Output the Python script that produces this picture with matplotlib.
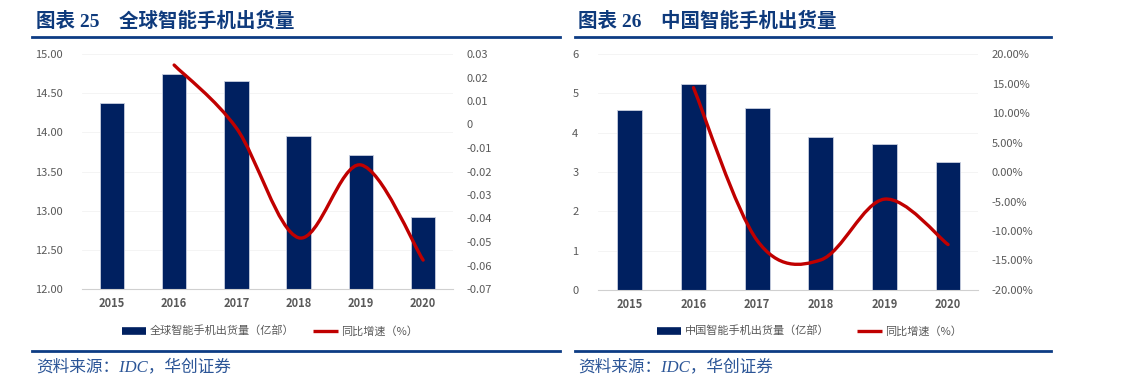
import matplotlib.pyplot as plt
from matplotlib.path import Path
from matplotlib.patches import PathPatch
from matplotlib.lines import Line2D
from matplotlib.ticker import FuncFormatter

plt.rcParams['font.family'] = ['Noto Sans CJK SC', 'DejaVu Sans']

years = ['2015', '2016', '2017', '2018', '2019', '2020']
global_ship = [14.37, 14.74, 14.65, 13.95, 13.71, 12.92]
global_yoy = [0.0253, -0.0015, -0.0482, -0.0172, -0.0577]   # 2016-2020
china_ship = [4.57, 5.23, 4.62, 3.90, 3.72, 3.26]
china_yoy = [14.3, -11.6, -14.9, -4.6, -12.3]               # %, 2016-2020

NAVY = '#002060'
RED = '#C00000'
TITLE_BLUE = '#0E3A7C'
GRAY = '#595959'
W, H = 1123, 380


def px(x0, y0, x1, y1):
    return [x0 / W, 1 - y1 / H, (x1 - x0) / W, (y1 - y0) / H]


def smooth_path(xs, ys):
    # excel style smoothed line: cubic bezier with catmull-rom control points
    pts = list(zip(xs, ys))
    verts = [pts[0]]
    codes = [Path.MOVETO]
    n = len(pts)
    for i in range(n - 1):
        p0 = pts[i - 1] if i > 0 else pts[i]
        p1 = pts[i]
        p2 = pts[i + 1]
        p3 = pts[i + 2] if i + 2 < n else pts[i + 1]
        c1 = (p1[0] + (p2[0] - p0[0]) / 6, p1[1] + (p2[1] - p0[1]) / 6)
        c2 = (p2[0] - (p3[0] - p1[0]) / 6, p2[1] - (p3[1] - p1[1]) / 6)
        verts += [c1, c2, p2]
        codes += [Path.CURVE4] * 3
    return Path(verts, codes)


def panel(box, xlim, bars, ylim, yticks, yfmt, line, y2lim, y2ticks, y2fmt):
    ax = fig.add_axes(px(*box))
    x = list(range(len(years)))
    ax.bar(x, bars, width=0.39, color=NAVY, edgecolor='#c9cfe0', linewidth=0.6, zorder=2)
    ax.set_xlim(*xlim)
    ax.set_ylim(*ylim)
    ax.set_yticks(yticks)
    ax.yaxis.set_major_formatter(FuncFormatter(yfmt))
    ax.set_xticks(x)
    ax.set_xticklabels(years, fontsize=8, color=GRAY, fontweight='bold')
    ax.tick_params(axis='y', labelsize=8, labelcolor=GRAY, length=0, pad=14)
    ax.tick_params(axis='x', length=0, pad=6)
    ax.grid(axis='y', color='#f3f3f3', linewidth=0.6, zorder=0)
    for s in ['top', 'right', 'left']:
        ax.spines[s].set_visible(False)
    ax.spines['bottom'].set_color('#d0d0d0')

    ax2 = ax.twinx()
    ax2.set_ylim(*y2lim)
    ax2.set_yticks(y2ticks)
    ax2.yaxis.set_major_formatter(FuncFormatter(y2fmt))
    ax2.tick_params(axis='y', labelsize=8, labelcolor=GRAY, length=0, pad=10)
    for s in ax2.spines.values():
        s.set_visible(False)
    ax2.add_patch(PathPatch(smooth_path(x[1:], line), fill=False,
                            edgecolor=RED, linewidth=2.4, capstyle='round', zorder=3))
    return ax


fig = plt.figure(figsize=(W / 100, H / 100), dpi=100)

# left panel
panel((82, 54, 453, 289), (-0.48, 5.48), global_ship, (12, 15),
      [12 + 0.5 * i for i in range(7)], lambda v, p: f'{v:.2f}',
      global_yoy, (-0.07, 0.03), [-0.07 + 0.01 * i for i in range(11)],
      lambda v, p: '0' if abs(v) < 1e-9 else f'{v:.2f}')

# right panel
panel((598, 54, 978, 290), (-0.5, 5.47), china_ship, (0, 6),
      list(range(7)), lambda v, p: f'{v:.0f}',
      china_yoy, (-20, 20), [-20 + 5 * i for i in range(9)],
      lambda v, p: f'{v:.2f}%')

title_font = ['Liberation Serif', 'Noto Sans CJK SC']
fig.text(36 / W, 1 - 21 / H, '图表 25    全球智能手机出货量', fontsize=14, fontweight='bold',
         color=TITLE_BLUE, family=title_font, va='center')
fig.text(578 / W, 1 - 21 / H, '图表 26    中国智能手机出货量', fontsize=14, fontweight='bold',
         color=TITLE_BLUE, family=title_font, va='center')

for x0, x1 in [(32, 560), (575, 1051)]:
    for y in (37, 351):
        fig.add_artist(Line2D([x0 / W, x1 / W], [1 - y / H, 1 - y / H],
                              color='#0D3C84', linewidth=2.0))

src_font = ['Liberation Serif', 'Noto Sans CJK SC']
fig.text(36 / W, 1 - 367 / H, '资料来源：IDC，华创证券', fontsize=12, style='italic',
         color='#2B5597', family=src_font, va='center')
fig.text(578 / W, 1 - 367 / H, '资料来源：IDC，华创证券', fontsize=12, style='italic',
         color='#2B5597', family=src_font, va='center')

# legends
legends = [(122, '全球智能手机出货量（亿部）', 313, '同比增速（%）'),
           (657, '中国智能手机出货量（亿部）', 857, '同比增速（%）')]
ly = 1 - 331 / H
for bx, btxt, rx, rtxt in legends:
    fig.add_artist(Line2D([bx / W, (bx + 24) / W], [ly, ly], color=NAVY, linewidth=5.5,
                          solid_capstyle='butt'))
    fig.text((bx + 28) / W, ly, btxt, fontsize=8, color=GRAY, va='center')
    fig.add_artist(Line2D([rx / W, (rx + 25) / W], [ly, ly], color=RED, linewidth=2.4,
                          solid_capstyle='butt'))
    fig.text((rx + 28) / W, ly, rtxt, fontsize=8, color=GRAY, va='center')

fig.savefig('out.png', dpi=100)
